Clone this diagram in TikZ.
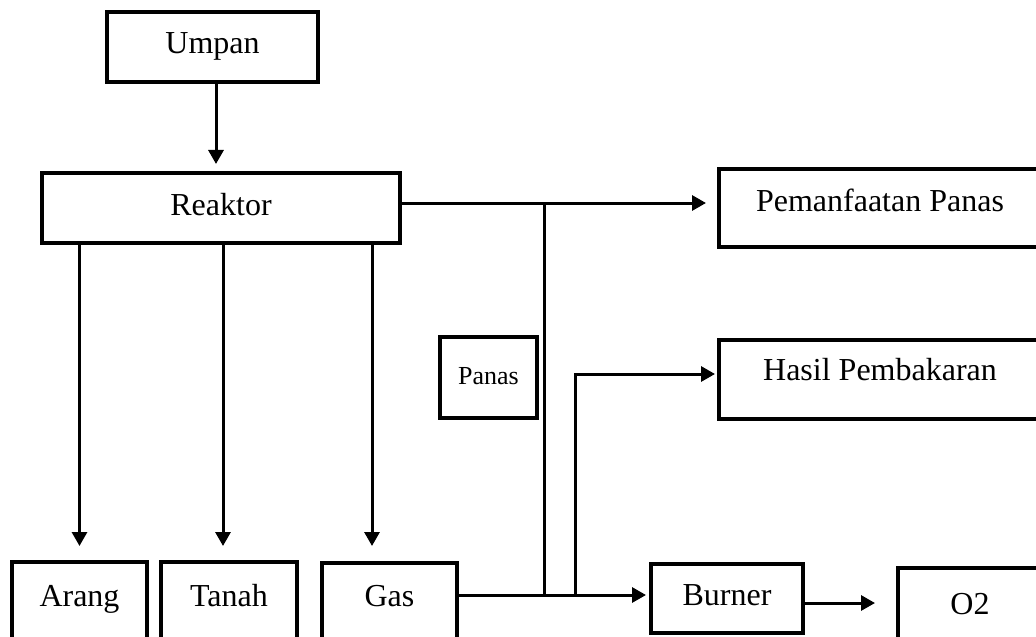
\documentclass[tikz,border=0pt]{standalone}
\usepackage{fontspec}
\setmainfont{Liberation Serif}
\usepackage{tikz}
\usetikzlibrary{arrows.meta}

\tikzset{
  kotak/.style={draw, line width=2pt, inner sep=0pt, rectangle,
    font=\fontsize{16}{19}\selectfont, text height=11.2pt, text depth=4.2pt},
  bawah/.style={text height=11.2pt, text depth=11.2pt},
  panah/.style={line width=1.5pt, -{Triangle[length=7pt,width=7.5pt]}},
  garis/.style={line width=1.5pt}
}

\begin{document}
\begin{tikzpicture}[x=0.5pt,y=-0.5pt]
    \clip (0,0) rectangle (1036,636);
    % kotak-kotak
    \node[kotak, minimum width=105.5pt, minimum height=35pt] (umpan) at (212.5,47) {Umpan};
    \node[kotak, minimum width=179pt, minimum height=35pt] (reaktor) at (221,208) {Reaktor};
    \node[kotak, minimum width=161pt, minimum height=38.5pt, text depth=7.2pt] (manfaat) at (880,208) {Pemanfaatan Panas};
    \node[kotak, minimum width=161pt, minimum height=39.5pt, text depth=10.4pt] (hasil) at (880,379.5) {Hasil Pembakaran};
    \node[kotak, minimum width=48.5pt, minimum height=40.5pt, font=\fontsize{13}{15}\selectfont] (panas) at (488.5,377.5) {Panas};
    \node[kotak, bawah, minimum width=67.5pt, minimum height=44pt] (arang) at (79.5,606) {Arang};
    \node[kotak, bawah, minimum width=68pt, minimum height=44pt] (tanah) at (229,606) {Tanah};
    \node[kotak, bawah, minimum width=67.5pt, minimum height=43.5pt] (gas) at (389.5,606.5) {Gas};
    \node[kotak, minimum width=76pt, minimum height=34.5pt] (burner) at (727,598.5) {Burner};
    \node[kotak, bawah, minimum width=72pt, minimum height=46pt] (o2) at (970,614) {O2};

    % titik bantu
    \coordinate (u1) at ([xshift=1.75pt]umpan.south);
    \coordinate (pA) at ([yshift=7pt]arang.north);
    \coordinate (pT) at ([xshift=-3pt,yshift=7pt]tanah.north);
    \coordinate (pG) at ([xshift=-8.75pt,yshift=7.5pt]gas.north);
    \coordinate (r1) at ([yshift=2.5pt]reaktor.east);
    \coordinate (g1) at ([yshift=5.75pt]gas.east);
    \coordinate (b1) at ([yshift=-2.25pt]burner.east);
    \coordinate (j1) at (544,203);
    \coordinate (j2) at (575,374);

    % aliran
    \draw[panah, shorten >=3.5pt] (u1) -- (u1 |- reaktor.north);
    \draw[panah] (reaktor.south -| pA) -- (pA);
    \draw[panah] (reaktor.south -| pT) -- (pT);
    \draw[panah] (reaktor.south -| pG) -- (pG);
    \draw[panah, shorten >=5.5pt] (r1) -- (r1 -| manfaat.west);
    \draw[garis] (j1) -- (j1 |- g1);
    \draw[panah, shorten >=1.5pt] (g1) -- (g1 -| burner.west);
    \draw[panah, shorten >=1pt] (j2 |- g1) -- (j2) -- (j2 -| hasil.west);
    \draw[panah, shorten >=10.5pt] (b1) -- (b1 -| o2.west);
\end{tikzpicture}
\end{document}
